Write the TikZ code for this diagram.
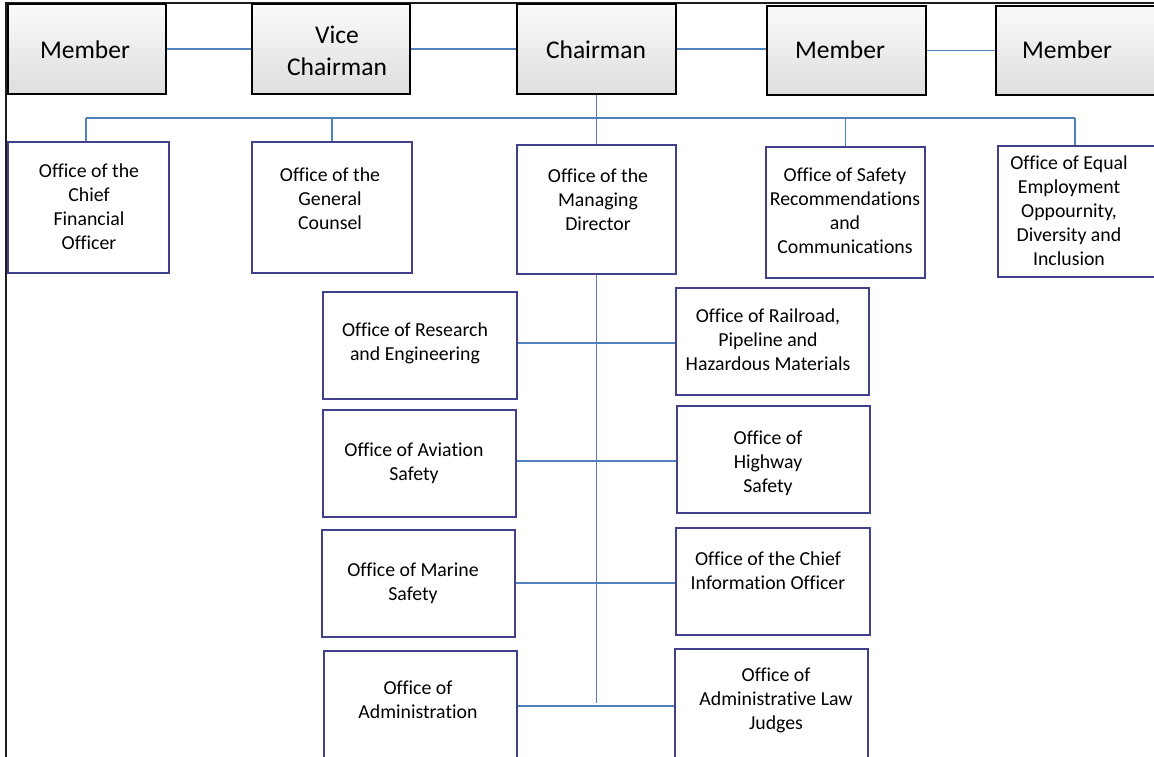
\documentclass[tikz,border=0pt]{standalone}
\usepackage{fontspec}
\setmainfont{Carlito}[Ligatures={NoCommon}]
\definecolor{topL}{RGB}{250,250,250}
\definecolor{topD}{RGB}{222,222,222}
\definecolor{obord}{RGB}{64,64,140}
\definecolor{conncol}{RGB}{79,129,189}
\definecolor{framecol}{RGB}{30,30,30}
\tikzset{
  topbox/.style={draw=black, line width=1.6pt, top color=topL, bottom color=topD, inner sep=0pt},
  obox/.style={draw=obord, line width=1.1pt, fill=white, inner sep=0pt},
  toptext/.style={align=center, inner sep=0pt, font=\fontsize{25.5}{32}\selectfont},
  otext/.style={align=center, inner sep=0pt, font=\fontsize{19.8}{24}\selectfont},
  conn/.style={draw=conncol, line width=1.5pt},
}
\newcommand{\boxat}[6]{% name, style, x1, y1, x2, y2
  \node[#2, minimum width={#5-#3}, minimum height={#6-#4}] (#1) at ({(#3+#5)/2},{(#4+#6)/2}) {};}
\begin{document}
\begin{tikzpicture}[x=1pt,y=-1pt]
\useasboundingbox (0,0) rectangle (1154,756);
% frame
\draw[framecol, line width=2pt] (6,760) -- (6,3) -- (1160,3);

% top row
\boxat{m1}{topbox}{8}{4}{166}{94}
\boxat{vc}{topbox}{252}{4}{410}{94}
\boxat{ch}{topbox}{517}{4}{676}{94}
\boxat{m2}{topbox}{767}{6}{926}{95}
\boxat{m3}{topbox}{996}{6}{1170}{95}
\node[toptext] (m1t) at (85,50) {Member};
\node[toptext] (vct) at (337,51) {Vice\\Chairman};
\node[toptext] (cht) at (596,50) {Chairman};
\node[toptext] (m2t) at (840,50) {Member};
\node[toptext] (m3t) at (1067,50) {Member};

\draw[conn] (m1.east) -- (vc.west);
\draw[conn] (vc.east) -- (ch.west);
\draw[conn] (ch.east) -- (ch.east -| m2.west);
\draw[conn] (m2.east) -- (m2.east -| m3.west);

% second row
\boxat{cfo}{obox}{8}{142}{169}{273}
\boxat{gc}{obox}{252}{142}{412}{273}
\boxat{md}{obox}{517}{145}{676}{274}
\boxat{sr}{obox}{766}{147}{925}{278}
\boxat{eeo}{obox}{998}{146}{1170}{277}
\node[otext] (cfot) at (89,207) {Office of the\\Chief\\Financial\\Officer};
\node[otext] (gct) at (330,199) {Office of the\\General\\Counsel};
\node[otext] (mdt) at (598,200) {Office of the\\Managing\\Director};
\node[otext] (srt) at (845,211) {Office of Safety\\Recommendations\\and\\Communications};
\node[otext] (eeot) at (1069,211) {Office of Equal\\Employment\\Oppournity,\\Diversity and\\Inclusion};

\coordinate (bL) at (86,118);
\coordinate (bR) at (1075,118);
\draw[conn] (ch.south) -- (md.north);
\draw[conn] (bL) -- (bR);
\draw[conn] (bL) -- (bL |- cfo.north);
\draw[conn] (gc.north |- bL) -- (gc.north);
\draw[conn] (sr.north |- bL) -- (sr.north);
\draw[conn] (bR) -- (bR |- eeo.north);

% lower columns
\boxat{res}{obox}{323}{292}{517}{399}
\boxat{avi}{obox}{323}{410}{516}{517}
\boxat{mar}{obox}{322}{530}{515}{637}
\boxat{adm}{obox}{324}{651}{517}{765}
\boxat{rail}{obox}{676}{288}{869}{395}
\boxat{hwy}{obox}{677}{406}{870}{513}
\boxat{cio}{obox}{676}{528}{870}{635}
\boxat{alj}{obox}{675}{649}{868}{765}
\node[otext] (rest) at (415,343) {Office of Research\\and Engineering};
\node[otext] (avit) at (414,463) {Office of Aviation\\Safety};
\node[otext] (mart) at (413,583) {Office of Marine\\Safety};
\node[otext] (admt) at (418,700) {Office of\\Administration};
\node[otext] (railt) at (768,340) {Office of Railroad,\\Pipeline and\\Hazardous Materials};
\node[otext] (hwyt) at (768,463) {Office of\\Highway\\Safety};
\node[otext] (ciot) at (768,571) {Office of the Chief\\Information Officer};
\node[otext] (aljt) at (776,700) {Office of\\Administrative Law\\Judges};

\coordinate (j1) at (596,343);
\coordinate (j2) at (596,461);
\coordinate (j3) at (596,583);
\coordinate (j4) at (596,706);
\draw[conn] (md.south) -- (md.south |- 0,703);
\draw[conn] (res.east |- j1) -- (rail.west |- j1);
\draw[conn] (avi.east |- j2) -- (hwy.west |- j2);
\draw[conn] (mar.east |- j3) -- (cio.west |- j3);
\draw[conn] (adm.east |- j4) -- (alj.west |- j4);
\end{tikzpicture}
\end{document}
